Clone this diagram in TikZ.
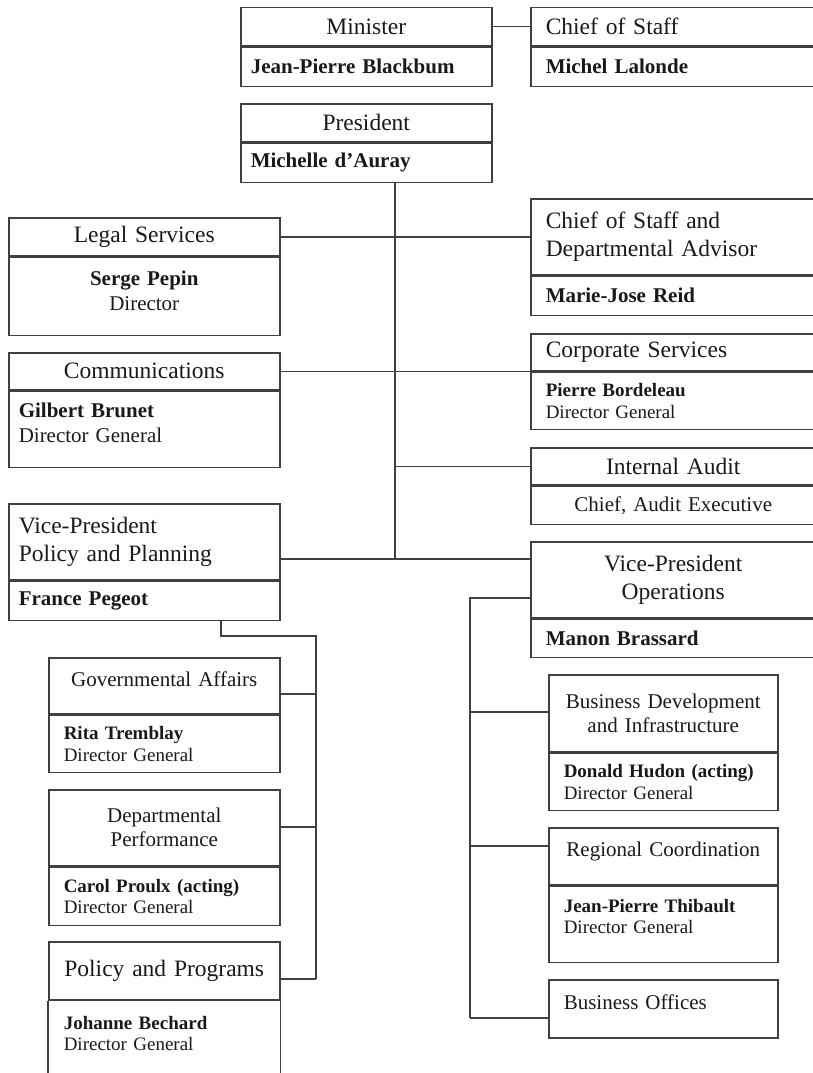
\documentclass[tikz,border=0pt]{standalone}
\usepackage{fontspec}
\setmainfont{Liberation Serif}
\usetikzlibrary{calc}

\tikzset{
  box/.style={draw=black!75, line width=1.5pt, anchor=north west, inner ysep=1pt, text=black!90},
  bL/.style={box, text width=251pt, inner xsep=10pt},
  bM/.style={box, text width=231pt, inner xsep=10pt},
  bR/.style={box, text width=255pt, inner xsep=15pt},
  bS/.style={box, text width=201pt, inner xsep=15pt},
  bT/.style={box, text width=199pt, inner xsep=15pt},
  big/.style={font=\fontsize{23.5}{28}\selectfont},
  mid/.style={font=\fontsize{21}{25}\selectfont},
  sml/.style={font=\fontsize{19}{21.5}\selectfont},
  lift/.style={text depth=#1},
  link/.style={draw=black!75, line width=1.5pt}
}

\begin{document}
\begin{tikzpicture}[x=1pt,y=1pt]
\useasboundingbox (0,0) rectangle (813,-1073);

% top row
\node[bM, big, align=center, minimum height=38pt] (min) at (240,-7) {Minister};
\node[bM, mid, align=left, minimum height=39pt] (minB) at (min.south west) {\textbf{Jean-Pierre Blackbum}};
\node[bR, big, align=left, minimum height=38pt] (cos) at (530,-7) {Chief of Staff};
\node[bR, mid, align=left, minimum height=39pt] (cosB) at (cos.south west) {\textbf{Michel Lalonde}};
\node[bM, big, align=center, minimum height=38pt] (pres) at (240,-103) {President};
\node[bM, mid, align=left, minimum height=39pt] (presB) at (pres.south west) {\textbf{Michelle d’Auray}};

% left column
\node[bL, big, align=center, minimum height=38pt] (leg) at (8,-217) {Legal Services};
\node[bL, mid, align=center, minimum height=78pt, lift=37pt] (legB) at (leg.south west) {\textbf{Serge Pepin}\\Director};
\node[bL, big, align=center, minimum height=37pt] (com) at (8,-352) {Communications};
\node[bL, mid, align=left, minimum height=76pt, lift=39pt] (comB) at (com.south west) {\textbf{Gilbert Brunet}\\Director General};
\node[bL, big, align=left, minimum height=76pt] (vpp) at (8,-503) {Vice-President\\Policy and Planning};
\node[bL, mid, align=left, minimum height=39pt] (vppB) at (vpp.south west) {\textbf{France Pegeot}};

% right column
\node[bR, big, align=left, minimum height=76pt] (cda) at (530,-198) {Chief of Staff and\\Departmental Advisor};
\node[bR, mid, align=left, minimum height=39pt] (cdaB) at (cda.south west) {\textbf{Marie-Jose Reid}};
\node[bR, big, align=left, minimum height=37pt] (cor) at (530,-333) {Corporate Services};
\node[bR, sml, align=left, minimum height=57pt] (corB) at (cor.south west) {\textbf{Pierre Bordeleau}\\Director General};
\node[bR, big, align=center, minimum height=37pt] (ia) at (530,-447) {Internal Audit};
\node[bR, mid, align=center, minimum height=38pt] (iaB) at (ia.south west) {Chief, Audit Executive};
\node[bR, big, align=center, minimum height=76pt] (vpo) at (530,-541) {Vice-President\\Operations};
\node[bR, mid, align=left, minimum height=38pt] (vpoB) at (vpo.south west) {\textbf{Manon Brassard}};

% under policy and planning
\node[bS, mid, align=center, minimum height=56pt, lift=14pt] (ga) at (48,-657) {Governmental Affairs};
\node[bS, sml, align=left, minimum height=57pt] (gaB) at (ga.south west) {\textbf{Rita Tremblay}\\Director General};
\node[bS, mid, align=center, minimum height=76pt, font=\fontsize{21}{24}\selectfont] (dp) at (48,-789) {Departmental\\Performance};
\node[bS, sml, align=left, minimum height=58pt] (dpB) at (dp.south west) {\textbf{Carol Proulx (acting)}\\Director General};
\node[bS, big, align=center, minimum height=58pt] (pp) at (48,-941) {Policy and Programs};
\node[bS, sml, align=left, minimum height=64pt, draw=none] (ppB) at (pp.south west) {\textbf{Johanne Bechard}\\Director General};
\draw[link] (pp.south west) -- ++(0,-90);
\draw[link] (pp.south east) -- ++(0,-90);

% under operations
\node[bT, mid, align=center, minimum height=77pt, font=\fontsize{21}{24.5}\selectfont] (bd) at (548,-674) {Business Development\\and Infrastructure};
\node[bT, sml, align=left, minimum height=57pt] (bdB) at (bd.south west) {\textbf{Donald Hudon (acting)}\\Director General};
\node[bT, mid, align=center, minimum height=57pt, lift=13.6pt] (rc) at (548,-827) {Regional Coordination};
\node[bT, sml, align=left, minimum height=76pt, lift=37.5pt] (rcB) at (rc.south west) {\textbf{Jean-Pierre Thibault}\\Director General};
\node[bT, mid, align=left, minimum height=58pt, lift=14pt] (bo) at (548,-979) {Business Offices};

% connectors
\coordinate (tb) at (395,-559);
\coordinate (ldrop) at (221,-636);
\coordinate (lbus) at (316,-636);
\coordinate (rbus) at (470,-598);
\draw[link] (min.east) -- (cos.west);
\draw[link] (tb |- presB.south) -- (tb);
\draw[link] (leg.east) -- (cda.west);
\draw[link] (com.east) -- (com.east -| cor.west);
\draw[link] (ia.west) -- (ia.west -| tb);
\draw[link] (vpp.east |- tb) -- (vpo.west |- tb);
\foreach \n/\y in {ga/694,dp/827,pp/979} {
    \coordinate (j\n) at (316,-\y);
    \draw[link] (j\n -| \n.east) -- (j\n);
}
\foreach \n/\y in {bd/712,rc/846,bo/1018} {
    \coordinate (j\n) at (470,-\y);
    \draw[link] (j\n) -- (j\n -| \n.west);
}
\draw[link] (ldrop |- vppB.south) -- (ldrop) -- (lbus) -- (jpp);
\draw[link] (rbus -| vpo.west) -- (rbus) -- (jbo);
\end{tikzpicture}
\end{document}
